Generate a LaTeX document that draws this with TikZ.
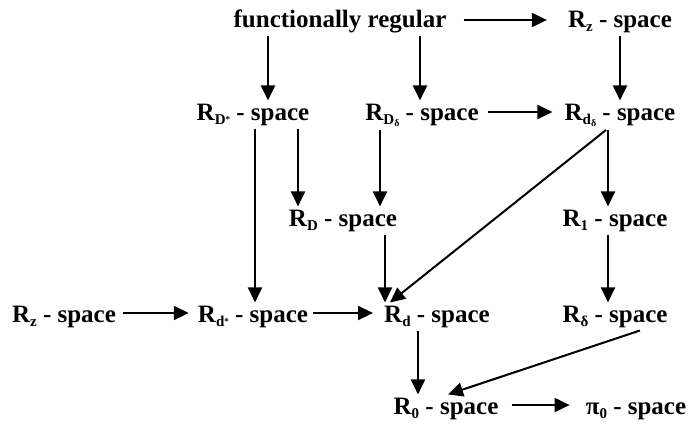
\documentclass[tikz,border=0pt]{standalone}
\usepackage{fontspec}
\setmainfont{Liberation Serif}
\usetikzlibrary{arrows.meta}
\newcommand\sbs[1]{\raisebox{-0.4ex}{\fontsize{15}{15}\selectfont #1}}
\newcommand\ssbs[1]{\raisebox{-0.3ex}{\fontsize{10}{10}\selectfont #1}}
\newcommand\ssup[1]{\raisebox{0.35ex}{\fontsize{9}{9}\selectfont #1}}
\tikzset{
  lbl/.style={anchor=base, inner sep=3pt, font=\fontsize{25}{25}\selectfont\bfseries},
  arr/.style={line width=2pt, -{Triangle[length=15pt,width=14pt]}}
}
\begin{document}
\begin{tikzpicture}[x=1pt,y=-1pt]
\useasboundingbox (0,0) rectangle (691,434);
\node[lbl] (fr) at (340,27) {functionally regular};
\node[lbl] (rzt) at (620,27) {R\sbs{z} - space};
\node[lbl] (rDs) at (253,120) {R\sbs{D\ssup{*}} - space};
\node[lbl] (rDd) at (422,120) {R\sbs{D\ssbs{δ}} - space};
\node[lbl] (rdd) at (620,120) {R\sbs{d\ssbs{δ}} - space};
\node[lbl] (rD) at (343,226) {R\sbs{D} - space};
\node[lbl] (r1) at (615,226) {R\sbs{1} - space};
\node[lbl] (rzl) at (64,322) {R\sbs{z} - space};
\node[lbl] (rds) at (253,322) {R\sbs{d\ssup{*}} - space};
\node[lbl] (rd) at (437,322) {R\sbs{d} - space};
\node[lbl] (rdl) at (615,322) {R\sbs{δ} - space};
\node[lbl] (r0) at (446,414) {R\sbs{0} - space};
\node[lbl] (pi0) at (636,414) {π\sbs{0} - space};

\draw[arr, shorten <=14pt, shorten >=18pt] (fr.east |- 0,20) -- (rzt.west |- 0,20);
\draw[arr] (rzt.south -| 620,0) -- (rdd.north -| 620,0);
\draw[arr] (fr.south -| 268,0) -- (rDs.north -| 268,0);
\draw[arr] (fr.south -| 420,0) -- (rDd.north -| 420,0);
\draw[arr, shorten <=6pt, shorten >=9pt] (rDd.east |- 0,112) -- (rdd.west |- 0,112);
\draw[arr] (rDs.south -| 255,0) -- (rds.north -| 255,0);
\draw[arr] (rDs.south -| 298,0) -- (rD.north -| 298,0);
\draw[arr] (rDd.south -| 380,0) -- (rD.north -| 380,0);
\draw[arr] (rD.south -| 385,0) -- (rd.north -| 385,0);
\draw[arr] (rdd.south -| 606,0) -- (rd.north -| 390,0);
\draw[arr] (rdd.south -| 608,0) -- (r1.north -| 608,0);
\draw[arr] (r1.south -| 608,0) -- (rdl.north -| 608,0);
\draw[arr, shorten <=4pt, shorten >=6pt] (rzl.east |- 0,313) -- (rds.west |- 0,313);
\draw[arr, shorten <=2pt, shorten >=8pt] (rds.east |- 0,313) -- (rd.west |- 0,313);
\draw[arr] (rd.south -| 418,0) -- (r0.north -| 418,0);
\draw[arr] (rdl.south -| 640,0) -- (r0.north -| 448,0);
\draw[arr, shorten <=10pt, shorten >=13pt] (r0.east |- 0,405) -- (pi0.west |- 0,405);
\end{tikzpicture}
\end{document}
